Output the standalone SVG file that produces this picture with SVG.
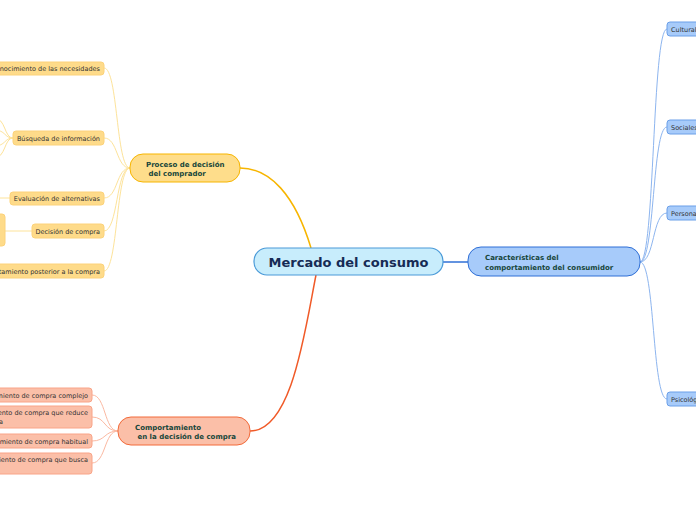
<svg xmlns="http://www.w3.org/2000/svg" width="696" height="520" viewBox="0 0 696 520">
<style>
.c{fill:none}
.y{stroke:#fde39a;stroke-width:1}
.r{stroke:#fbb9a2;stroke-width:1}
.b{stroke:#8db5ef;stroke-width:1}
.sub{font-family:"DejaVu Sans",Verdana,sans-serif;font-size:6.5px;fill:#333}
.lab{font-family:"DejaVu Sans",Verdana,sans-serif;font-size:7px;font-weight:bold;fill:#17463a}
.yn{fill:#fedb8a;stroke:#fcd27a;stroke-width:1}
.rn{fill:#fbbfa8;stroke:#f9a488;stroke-width:1}
.bn{fill:#a7cbfa;stroke:#6b9fe8;stroke-width:1}
</style>
<rect width="696" height="520" fill="#ffffff"/>
<g id="connectors" class="c">
<path d="M311,248 C295,195 270,168 240,168" stroke="#f7b500" stroke-width="1.5" fill="none"/>
<path d="M316,275 C305,330 292,431 250,431" stroke="#f05a28" stroke-width="1.5" fill="none"/>
<path d="M443,262 L468,262" stroke="#2f6fd6" stroke-width="1.5" fill="none"/>
<g class="y">
<path d="M130,168 C116,168 118,68 104,68"/>
<path d="M130,168 C116,168 118,138 104,138"/>
<path d="M130,168 C116,168 118,198 104,198"/>
<path d="M130,168 C116,168 118,231 104,231"/>
<path d="M130,168 C116,168 118,271 104,271"/>
<path d="M13,138 C4,138 6,118 -6,118"/>
<path d="M13,138 C4,138 6,130 -6,130"/>
<path d="M13,138 C4,138 6,146 -6,146"/>
<path d="M13,138 C4,138 6,158 -6,158"/>
<path d="M10,198 L-2,198"/>
<path d="M32,231 L5,231"/>
</g>
<g class="r">
<path d="M118,431 C104,431 106,395 92,395"/>
<path d="M118,431 C104,431 106,417 92,417"/>
<path d="M118,431 C104,431 106,441 92,441"/>
<path d="M118,431 C104,431 106,463 92,463"/>
</g>
<g class="b">
<path d="M640,262 C655,262 652,29 667,29"/>
<path d="M640,262 C655,262 652,127 667,127"/>
<path d="M640,262 C655,262 652,213 667,213"/>
<path d="M640,262 C655,262 652,399 667,399"/>
</g>
</g>
<g id="central">
<rect x="254" y="248" width="189" height="27" rx="13" fill="#c8edfc" stroke="#4a9ad8" stroke-width="1.2"/>
<text x="348.5" y="266.5" text-anchor="middle" font-family="'DejaVu Sans',Verdana,sans-serif" font-size="13" font-weight="bold" fill="#162b55">Mercado del consumo</text>
</g>
<g id="proceso">
<rect x="130" y="154" width="110" height="28" rx="13" fill="#fedd8b" stroke="#f7b500" stroke-width="1"/>
<text class="lab" x="146" y="166.5">Proceso de decisión</text>
<text class="lab" x="146" y="175.5" xml:space="preserve"> del comprador</text>
</g>
<g id="comportamiento">
<rect x="118" y="417" width="132" height="28" rx="13" fill="#fbbfa8" stroke="#f26a3a" stroke-width="1"/>
<text class="lab" x="135" y="429.5">Comportamiento</text>
<text class="lab" x="135" y="438.5" xml:space="preserve"> en la decisión de compra</text>
</g>
<g id="caracteristicas">
<rect x="468" y="247" width="172" height="29" rx="13" fill="#a7cbfa" stroke="#2f6fd6" stroke-width="1"/>
<text class="lab" x="485" y="260">Características del</text>
<text class="lab" x="485" y="269.5">comportamiento del consumidor</text>
</g>
<g id="reconocimiento">
<rect x="-40" y="62" width="144" height="13" rx="3" class="yn"/>
<text class="sub" x="100" y="71" text-anchor="end">Reconocimiento de las necesidades</text>
</g>
<g id="busqueda">
<rect x="13" y="131" width="91" height="14" rx="3" class="yn"/>
<text class="sub" x="100" y="140.5" text-anchor="end">Búsqueda de información</text>
</g>
<g id="evaluacion">
<rect x="10" y="192" width="94" height="13" rx="3" class="yn"/>
<text class="sub" x="100" y="201" text-anchor="end">Evaluación de alternativas</text>
</g>
<g id="decision">
<rect x="32" y="224" width="72" height="14" rx="3" class="yn"/>
<text class="sub" x="100" y="233.5" text-anchor="end">Decisión de compra</text>
</g>
<g id="decision-hijo">
<rect x="-30" y="214" width="35" height="32" rx="3" class="yn"/>
</g>
<g id="posterior">
<rect x="-40" y="264" width="144" height="14" rx="3" class="yn"/>
<text class="sub" x="100" y="273.5" text-anchor="end">Comportamiento posterior a la compra</text>
</g>
<g id="complejo">
<rect x="-40" y="388" width="132" height="14" rx="3" class="rn"/>
<text class="sub" x="88" y="397.5" text-anchor="end">Comportamiento de compra complejo</text>
</g>
<g id="reduce">
<rect x="-50" y="406" width="142" height="22" rx="3" class="rn"/>
<text class="sub" x="88" y="415" text-anchor="end">Comportamiento de compra que reduce</text>
<text class="sub" x="3" y="423.5" text-anchor="end">la disonancia</text>
</g>
<g id="habitual">
<rect x="-40" y="434" width="132" height="14" rx="3" class="rn"/>
<text class="sub" x="88" y="443.5" text-anchor="end">Comportamiento de compra habitual</text>
</g>
<g id="variedad">
<rect x="-50" y="453" width="142" height="21" rx="3" class="rn"/>
<text class="sub" x="88" y="462" text-anchor="end">Comportamiento de compra que busca</text>
<text class="sub" x="-8" y="470.5" text-anchor="end">variedad</text>
</g>
<g id="culturales">
<rect x="667" y="22" width="50" height="14" rx="3" class="bn"/>
<text class="sub" x="671" y="31.5">Culturales</text>
</g>
<g id="sociales">
<rect x="667" y="120" width="50" height="14" rx="3" class="bn"/>
<text class="sub" x="671" y="129.5">Sociales</text>
</g>
<g id="personales">
<rect x="667" y="206" width="50" height="14" rx="3" class="bn"/>
<text class="sub" x="671" y="215.5">Personales</text>
</g>
<g id="psicologicos">
<rect x="667" y="392" width="50" height="14" rx="3" class="bn"/>
<text class="sub" x="671" y="401.5">Psicológicos</text>
</g>
</svg>
